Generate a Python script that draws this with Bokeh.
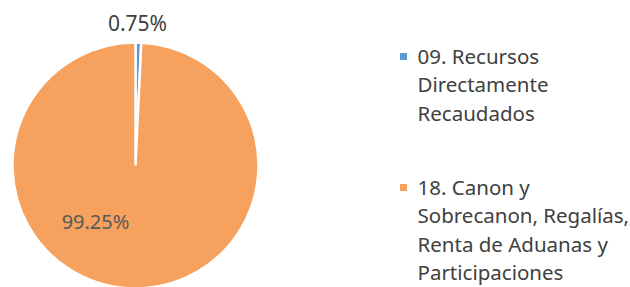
import math
from bokeh.plotting import figure
from bokeh.models import Range1d
from bokeh.core.properties import value
from bokeh.embed import file_html
from bokeh.resources import INLINE

categories = ["09. Recursos Directamente Recaudados",
              "18. Canon y Sobrecanon, Regalías, Renta de Aduanas y Participaciones"]
shares = [0.75, 99.25]
labels = ["0.75%", "99.25%"]
legend_lines = [["09. Recursos", "Directamente", "Recaudados"],
                ["18. Canon y", "Sobrecanon, Regalías,", "Renta de Aduanas y", "Participaciones"]]
colors = ["#5B9BD5", "#F6A25E"]

W, H = 630, 287
p = figure(width=W, height=H, output_backend="svg", toolbar_location=None,
           x_range=Range1d(0, W), y_range=Range1d(0, H), min_border=0)
p.axis.visible = False
p.grid.visible = False
p.outline_line_color = None
p.background_fill_color = "white"

cx, cy, r = 135, H - 165, 123
total = sum(shares)
start = math.pi / 2
for s, c in zip(shares, colors):
    end = start - 2 * math.pi * s / total
    p.wedge(x=[cx], y=[cy], radius=r, start_angle=start, end_angle=end,
            direction="clock", fill_color=c, line_color="white", line_width=2.5)
    start = end

font = value("Noto Sans")
# data labels
p.text(x=[cx + 2], y=[H - 22], text=[labels[0]], text_font=font, text_font_size="21px",
       text_color="#404040", text_align="center", text_baseline="middle")
p.text(x=[cx - 40], y=[H - 221], text=[labels[1]], text_font=font, text_font_size="20px",
       text_color="#595959", text_align="center", text_baseline="middle")

# legend
item_tops = [55, 186]
for lines, c, top in zip(legend_lines, colors, item_tops):
    p.rect(x=[403], y=[H - top - 1], width=7, height=7, fill_color=c, line_color=None)
    ys = [H - (top + 28.5 * i) for i in range(len(lines))]
    p.text(x=[417] * len(lines), y=ys, text=lines, text_font=font, text_font_size="20.5px",
           text_color="#404040", text_align="left", text_baseline="middle")

open("out.html", "w").write(file_html(p, INLINE))
